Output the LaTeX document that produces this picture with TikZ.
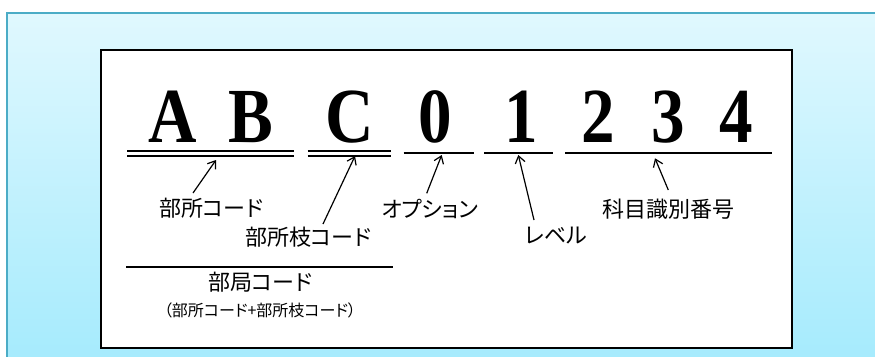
\documentclass[tikz,border=0pt]{standalone}
\usepackage{fontspec}
\setmainfont{Liberation Serif}
\newfontfamily\jp[RawFeature=+palt]{Noto Sans CJK JP}
\usetikzlibrary{arrows.meta}
\definecolor{panelTop}{HTML}{E0F8FE}
\definecolor{panelBot}{HTML}{A6EBFD}
\definecolor{panelLine}{HTML}{4BACC6}
\tikzset{
  big/.style={anchor=base, inner sep=0pt, font=\fontsize{78}{80}\selectfont\bfseries},
  lab/.style={inner sep=0pt, font=\jp\fontsize{22}{24}\selectfont},
  smalllab/.style={inner sep=0pt, font=\jp\fontsize{16}{18}\selectfont},
  dbl/.style={line width=1.8pt},
  sgl/.style={line width=2pt},
  pointer/.style={line width=1.2pt, -{Straight Barb[length=7pt,width=10pt,line width=1.2pt]}}
}
\newcommand{\cond}[1]{\scalebox{0.86}[1]{#1}}
\begin{document}
\begin{tikzpicture}[x=1pt,y=-1pt]
\useasboundingbox (0,0) rectangle (875,356);
\fill[white] (0,0) rectangle (875,356);
\shade[top color=panelTop, bottom color=panelBot] (7,13) rectangle (876,358);
\draw[panelLine, line width=2pt] (7,358) -- (7,13) -- (876,13);
\draw[fill=white, line width=2pt] (101,50) rectangle (792,348);

% big characters
\node[big] (cA) at (173,142) {\cond{A}};
\node[big] (cB) at (251,142) {\cond{B}};
\node[big] (cC) at (350,142) {\cond{C}};
\node[big] (c0) at (435,142) {\cond{0}};
\node[big] (c1) at (521,142) {\cond{1}};
\node[big] (c2) at (598,142) {\cond{2}};
\node[big] (c3) at (668,142) {\cond{3}};
\node[big] (c4) at (736,142) {\cond{4}};

% underlines
\coordinate (u1a) at (127,151.2); \coordinate (u1b) at (294,151.2);
\coordinate (u1c) at (127,155.7); \coordinate (u1d) at (294,155.7);
\coordinate (u2a) at (307.5,151.2); \coordinate (u2b) at (391,151.2);
\coordinate (u2c) at (307.5,155.7); \coordinate (u2d) at (391,155.7);
\draw[dbl] (u1a) -- (u1b); \draw[dbl] (u1c) -- (u1d);
\draw[dbl] (u2a) -- (u2b); \draw[dbl] (u2c) -- (u2d);
\coordinate (u3a) at (403.5,153.3); \coordinate (u3b) at (474,153.3);
\coordinate (u4a) at (484,153.3); \coordinate (u4b) at (553,153.3);
\coordinate (u5a) at (565,153.3); \coordinate (u5b) at (771.5,153.3);
\draw[sgl] (u3a) -- (u3b);
\draw[sgl] (u4a) -- (u4b);
\draw[sgl] (u5a) -- (u5b);

% labels
\node[lab] (lBusho) at (211,208) {部所コード};
\node[lab] (lEda) at (308,237) {部所枝コード};
\node[lab] (lOpt) at (430,209) {オプション};
\node[lab] (lLev) at (556,236) {レベル};
\node[lab] (lKam) at (668,209) {科目識別番号};
\node[lab] (lBukyoku) at (260,282) {部局コード};
\node[smalllab] (lSub) at (260,310) {（部所コード+部所枝コード）};
\coordinate (b1) at (126,266.7); \coordinate (b2) at (393,266.7);
\draw[sgl] (b1) -- (b2);

% arrows
\coordinate (t1) at (193,193); \coordinate (h1) at (216,160);
\coordinate (t2) at (323,224); \coordinate (h2) at (355,156);
\coordinate (t3) at (426.7,193.3); \coordinate (h3) at (441.7,155);
\coordinate (t4) at (534,220); \coordinate (h4) at (518.3,155);
\coordinate (t5) at (668.3,190); \coordinate (h5) at (655,158.3);
\draw[pointer] (t1) -- (h1);
\draw[pointer] (t2) -- (h2);
\draw[pointer] (t3) -- (h3);
\draw[pointer] (t4) -- (h4);
\draw[pointer] (t5) -- (h5);
\end{tikzpicture}
\end{document}
